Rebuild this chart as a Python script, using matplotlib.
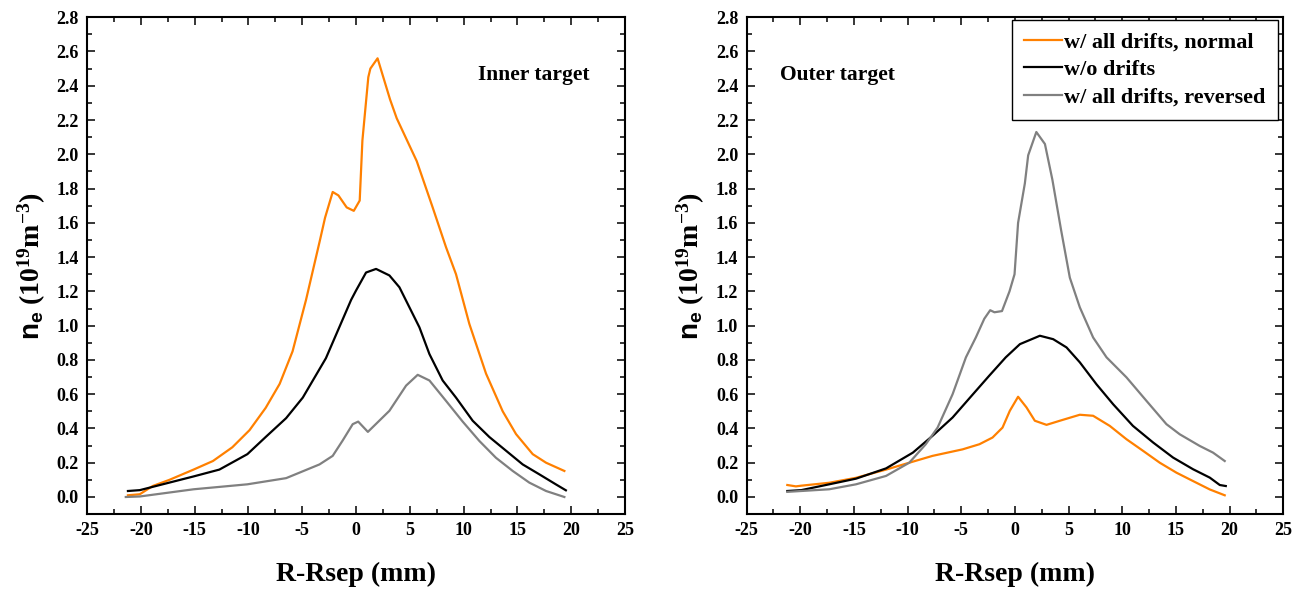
import matplotlib
matplotlib.use("Agg")
import matplotlib.pyplot as plt
from matplotlib.ticker import MultipleLocator

# ---------------- data ----------------
# Inner target
in_norm_x = [-21.2, -20.1, -18.9, -17.35, -15.1, -13.3, -11.5, -9.9, -8.4, -7.1, -5.9, -4.65, -3.35,
             -2.88, -2.17, -1.64, -0.87, -0.21, 0.34, 0.59, 1.14, 1.33, 2.0, 3.16, 3.78, 5.64, 7.12,
             8.36, 9.29, 10.53, 12.08, 13.63, 14.87, 16.42, 17.66, 19.36]
in_norm_y = [0.01, 0.016, 0.064, 0.10, 0.16, 0.21, 0.29, 0.39, 0.52, 0.66, 0.85, 1.15, 1.50,
             1.63, 1.78, 1.76, 1.69, 1.67, 1.73, 2.08, 2.45, 2.50, 2.56, 2.32, 2.21, 1.96, 1.69,
             1.458, 1.30, 1.01, 0.72, 0.50, 0.367, 0.25, 0.20, 0.152]

in_nod_x = [-21.2, -20.1, -17.35, -15.1, -12.7, -10.1, -8.4, -6.5, -4.95, -2.8, -0.46, 0.0, 0.93,
            1.86, 3.1, 4.03, 4.96, 5.89, 6.82, 8.05, 9.29, 10.84, 12.39, 13.94, 15.49, 17.04,
            18.59, 19.5]
in_nod_y = [0.035, 0.04, 0.084, 0.12, 0.16, 0.25, 0.35, 0.46, 0.58, 0.81, 1.15, 1.205, 1.31,
            1.331, 1.293, 1.224, 1.107, 0.99, 0.834, 0.68, 0.58, 0.445, 0.35, 0.27, 0.19, 0.132,
            0.073, 0.039]

in_rev_x = [-21.4, -20.1, -15.1, -10.1, -6.5, -3.4, -2.17, -1.24, -0.31, 0.2, 1.1, 3.1, 4.65,
            5.73, 6.82, 8.36, 9.91, 11.46, 13.0, 14.56, 16.1, 17.66, 19.36]
in_rev_y = [0.0, 0.003, 0.045, 0.074, 0.11, 0.19, 0.24, 0.33, 0.425, 0.44, 0.38, 0.503, 0.65,
            0.713, 0.68, 0.561, 0.44, 0.327, 0.229, 0.152, 0.084, 0.035, 0.0]

# Outer target
out_norm_x = [-21.2, -20.4, -19.9, -17.3, -14.8, -12.0, -9.84, -7.67, -4.87, -3.3, -2.08, -1.15,
              -0.47, 0.3, 1.08, 1.86, 2.95, 4.19, 6.05, 7.29, 8.84, 10.4, 11.95, 13.5, 15.05,
              16.6, 18.16, 19.55]
out_norm_y = [0.07, 0.062, 0.066, 0.083, 0.112, 0.16, 0.20, 0.24, 0.278, 0.308, 0.347, 0.405,
              0.503, 0.585, 0.523, 0.445, 0.421, 0.445, 0.48, 0.474, 0.415, 0.337, 0.269, 0.2,
              0.142, 0.093, 0.044, 0.01]

out_nod_x = [-21.2, -19.9, -17.3, -14.8, -12.0, -9.5, -7.67, -5.8, -3.9, -2.4, -0.85, 0.47,
             2.33, 3.57, 4.81, 6.05, 7.6, 9.16, 11.0, 12.88, 14.74, 16.6, 18.16, 19.09, 19.65]
out_nod_y = [0.035, 0.04, 0.074, 0.107, 0.167, 0.259, 0.357, 0.464, 0.6, 0.707, 0.815, 0.892,
             0.941, 0.921, 0.873, 0.786, 0.658, 0.541, 0.415, 0.318, 0.23, 0.162, 0.113, 0.07,
             0.064]

out_rev_x = [-21.2, -17.3, -14.8, -12.0, -9.84, -8.3, -7.2, -5.8, -4.56, -3.63, -2.85, -2.3,
             -1.9, -1.2, -0.5, -0.03, 0.3, 0.93, 1.24, 2.0, 2.8, 3.5, 4.3, 5.12, 6.05, 7.29,
             8.54, 10.4, 12.26, 14.12, 15.36, 17.22, 18.46, 19.55]
out_rev_y = [0.03, 0.045, 0.074, 0.123, 0.20, 0.308, 0.405, 0.6, 0.815, 0.932, 1.04, 1.09,
             1.078, 1.085, 1.2, 1.3, 1.6, 1.83, 1.994, 2.13, 2.06, 1.85, 1.56, 1.28, 1.107,
             0.931, 0.815, 0.698, 0.561, 0.425, 0.366, 0.298, 0.259, 0.21]

labels = ["w/ all drifts, normal", "w/o drifts", "w/ all drifts, reversed"]
colors = ["#ff8000", "#000000", "#808080"]
panel_titles = ["Inner target", "Outer target"]

# ---------------- style ----------------
plt.rcParams['font.family'] = ['Liberation Serif', 'DejaVu Serif']
plt.rcParams['font.weight'] = 'bold'
plt.rcParams['axes.unicode_minus'] = False
plt.rcParams['mathtext.fontset'] = 'custom'
plt.rcParams['mathtext.rm'] = 'Liberation Serif:bold'
plt.rcParams['mathtext.bf'] = 'Liberation Serif:bold'
plt.rcParams['mathtext.it'] = 'Liberation Serif:bold'
plt.rcParams['mathtext.sf'] = 'Liberation Sans:bold'

fig = plt.figure(figsize=(13.09, 5.93), dpi=100)
ax1 = fig.add_axes([0.0665, 0.133, 0.411, 0.838])
ax2 = fig.add_axes([0.5703, 0.133, 0.410, 0.838])

data = [
    [(in_norm_x, in_norm_y), (in_nod_x, in_nod_y), (in_rev_x, in_rev_y)],
    [(out_norm_x, out_norm_y), (out_nod_x, out_nod_y), (out_rev_x, out_rev_y)],
]

for i, ax in enumerate([ax1, ax2]):
    for (xs, ys), c, lab in zip(data[i], colors, labels):
        ax.plot(xs, ys, color=c, lw=1.6, label=lab)
    ax.set_xlim(-25, 25)
    ax.set_ylim(-0.1, 2.8)
    ax.xaxis.set_major_locator(MultipleLocator(5))
    ax.xaxis.set_minor_locator(MultipleLocator(2.5))
    ax.yaxis.set_major_locator(MultipleLocator(0.2))
    ax.yaxis.set_minor_locator(MultipleLocator(0.1))
    ax.set_yticks([round(0.2 * k, 1) for k in range(15)])
    ax.set_yticklabels([f"{0.2 * k:.1f}" for k in range(15)])
    ax.tick_params(which='both', direction='in', top=True, right=True, width=1.1)
    ax.tick_params(which='major', length=6, labelsize=13, pad=6)
    ax.tick_params(which='minor', length=3.5)
    for lbl in ax.get_xticklabels() + ax.get_yticklabels():
        lbl.set_fontweight('bold')
    for s in ax.spines.values():
        s.set_linewidth(1.5)
    ax.set_xlabel("R-Rsep (mm)", fontsize=20, fontweight='bold', labelpad=16)
    ax.set_ylabel(r"$\mathsf{n}_\mathsf{e}$ (10$^{19}$m$^{-3}$)", fontsize=20,
                  fontweight='bold', labelpad=6)

ax1.text(0.727, 0.883, panel_titles[0], transform=ax1.transAxes, fontsize=15.5,
         fontweight='bold', va='center', ha='left')
ax2.text(0.062, 0.883, panel_titles[1], transform=ax2.transAxes, fontsize=15.5,
         fontweight='bold', va='center', ha='left')

leg = ax2.legend(loc='upper right', bbox_to_anchor=(0.99, 0.994),
                 frameon=True, fancybox=False, edgecolor='black', framealpha=1,
                 handlelength=1.7, handletextpad=0.1, borderpad=0.55, labelspacing=0.3,
                 borderaxespad=0.0, prop={'weight': 'bold', 'size': 16})
leg.get_frame().set_linewidth(1.0)

fig.savefig("out.png", dpi=100)
